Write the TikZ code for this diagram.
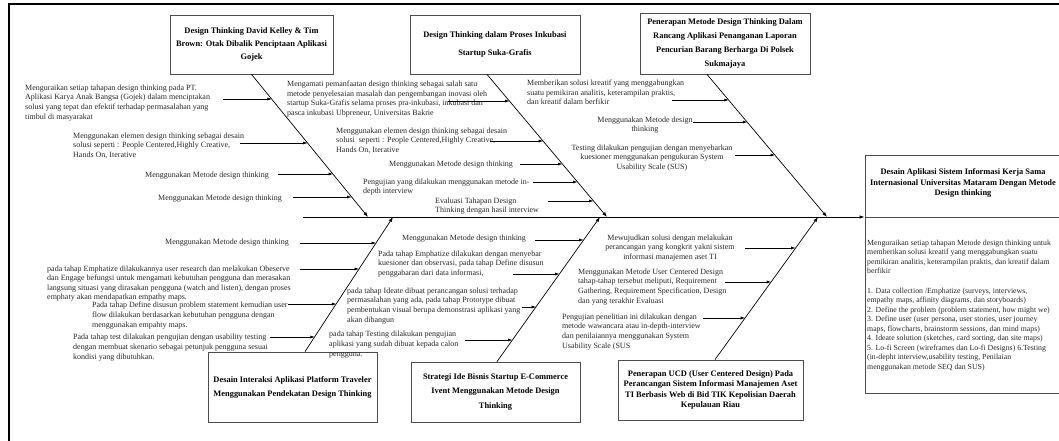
\documentclass[tikz,border=0pt]{standalone}
\usepackage{fontspec}
\setmainfont{Liberation Serif}
\usetikzlibrary{calc}
\usetikzlibrary{arrows.meta}

\newcommand{\panah}[4]{% nama, x ekor, x kepala, y
  \coordinate (#1a) at (#2,#4);
  \coordinate (#1b) at (#3,#4);
  \draw[lengan] (#1a) -- (#1b);
}

\begin{document}
\begin{tikzpicture}[x=1pt,y=-1pt,
  judul/.style={draw=black!70, line width=0.8pt, align=center, inner sep=0pt},
  catatan/.style={align=left, inner sep=0pt, anchor=north west, text=black!85, font=\fontsize{8}{9.7}\selectfont},
  tengah/.style={catatan, align=center, anchor=north},
  tulang/.style={line width=0.7pt, -{Latex[length=5pt,width=3.5pt]}},
  lengan/.style={line width=0.6pt, -{Latex[length=4.5pt,width=3pt]}}]
\useasboundingbox (0,0) rectangle (1059,441);
\draw[line width=2pt] (8.5,441) -- (8.5,4) -- (1059,4);

% kotak atas
\node[judul, minimum width=163pt, minimum height=59pt, font=\bfseries\fontsize{8.4}{13}\selectfont] (t1) at (251.5,44.5)
  {Design Thinking David Kelley \& Tim\\Brown: Otak Dibalik Penciptaan Aplikasi\\Gojek};
\node[judul, minimum width=170pt, minimum height=59pt, font=\bfseries\fontsize{8.4}{18}\selectfont] (t2) at (495,44.5)
  {Design Thinking dalam Proses Inkubasi\\Startup Suka-Grafis};
\node[judul, minimum width=170pt, minimum height=61pt, font=\bfseries\fontsize{8.4}{14}\selectfont] (t3) at (725,43.5)
  {Penerapan Metode Design Thinking Dalam\\Rancang Aplikasi Penanganan Laporan\\Pencurian Barang Berharga Di Polsek\\Sukmajaya};

% kotak bawah
\node[judul, minimum width=169pt, minimum height=70pt, font=\bfseries\fontsize{8.4}{14}\selectfont] (b1) at (292.5,387)
  {Desain Interaksi Aplikasi Platform Traveler\\Menggunakan Pendekatan Design Thinking};
\node[judul, minimum width=169pt, minimum height=60pt, font=\bfseries\fontsize{8.4}{14.5}\selectfont] (b2) at (495.5,392)
  {Strategi Ide Bisnis Startup E-Commerce\\Ivent Menggunakan Metode Design\\Thinking};
\node[judul, minimum width=185pt, minimum height=60pt, font=\bfseries\fontsize{8.4}{10.3}\selectfont] (b3) at (710.5,390)
  {Penerapan UCD (User Centered Design) Pada\\Perancangan Sistem Informasi Manajemen Aset\\TI Berbasis Web di Bid TIK Kepolisian Daerah\\Kepulauan Riau};

% kotak hasil
\node[judul, minimum width=196pt, minimum height=238pt] (hasil) at (963,274) {};
\node[tengah, font=\bfseries\fontsize{8.4}{10.5}\selectfont, text=black] (hjudul) at (963,168.5)
  {Desain Aplikasi Sistem Informasi Kerja Sama\\Internasional Universitas Mataram Dengan Metode\\Design thinking};
\node[catatan, font=\fontsize{7.8}{9.5}\selectfont] (hisi) at (867,239.5)
  {Menguraikan setiap tahapan Metode design thinking untuk\\memberikan solusi kreatif yang menggabungkan suatu\\pemikiran analitis, keterampilan praktis, dan kreatif dalam\\berfikir\\[10pt]
   1. Data collection /Emphatize (surveys, interviews,\\empathy maps, affinity diagrams, dan storyboards)\\2. Define the problem (problem statement, how might we)\\3. Define user (user persona, user stories, user journey\\maps, flowcharts, brainstorm sessions, dan mind maps)\\4. Ideate solution (sketches, card sorting, dan site maps)\\5. Lo-fi Screen (wireframes dan Lo-fi Designs) 6.Testing\\(in-depht interview,usability testing, Penilaian\\menggunakan metode SEQ dan SUS)};

% tulang utama
\coordinate (ekor) at (303,217);
\draw[line width=0.8pt, -{Latex[length=5pt,width=3.5pt]}] (ekor) -- (ekor -| hasil.west);
\draw[line width=0.8pt, draw=black!70] (ekor -| hasil.west) -- (ekor -| hasil.east);

\coordinate (s1) at (368,217);
\coordinate (s2) at (607,217);
\coordinate (s3) at (827,217);
\coordinate (s4) at (393,217);
\coordinate (s5) at (600,217);
\coordinate (s6) at (818,217);
\draw[tulang] (t1.south) -- (s1);
\draw[tulang] ($(t2.south)+(-8,0)$) -- (s2);
\draw[tulang] ($(t3.south)+(-18,0)$) -- (s3);
\draw[tulang] ($(b1.north)+(12.5,0)$) -- (s4);
\draw[tulang] ($(b2.north)+(1.5,0)$) -- (s5);
\draw[tulang] ($(b3.north)+(4.5,0)$) -- (s6);

% catatan tulang 1
\node[catatan] (n11) at (25,84.5) {Menguraikan setiap tahapan design thinking pada PT.\\Aplikasi Karya Anak Bangsa (Gojek) dalam menciptakan\\solusi yang tepat dan efektif terhadap permasalahan yang\\timbul di masyarakat};
\node[catatan] (n12) at (73,132.5) {Menggunakan elemen design thinking sebagai desain\\solusi seperti : People Centered,Highly Creative,\\Hands On, Iterative};
\node[catatan] (n13) at (145,171.5) {Menggunakan Metode design thinking};
\node[catatan] (n14) at (158,194.5) {Menggunakan Metode design thinking};
\panah{p11}{223}{271.9}{99}
\panah{p12}{240}{307.7}{143}
\panah{p13}{278}{333}{174}
\panah{p14}{293}{351.7}{197}

% catatan tulang 2
\node[catatan] (n21) at (287,80.5) {Mengamati pemanfaatan design thinking sebagai salah satu\\metode penyelesaian masalah dan pengembangan inovasi oleh\\startup Suka-Grafis selama proses pra-inkubasi, inkubasi dan\\pasca inkubasi Ubpreneur, Universitas Bakrie};
\node[catatan] (n22) at (336,127.5) {Menggunakan elemen design thinking sebagai desain\\solusi \ seperti : People Centered,Highly Creative,\\Hands On, Iterative};
\node[catatan] (n23) at (389,160.5) {Menggunakan Metode design thinking};
\node[catatan] (n24) at (363,178.5) {Pengujian yang dilakukan menggunakan metode in-\\depth interview};
\node[catatan] (n25) at (435,197.5) {Evaluasi Tahapan Design\\Thinking dengan hasil interview};
\panah{p21}{448}{509.7}{101}
\panah{p22}{490}{543.2}{141}
\panah{p23}{520}{562.5}{164}
\panah{p24}{533}{577.6}{182}
\panah{p25}{548}{593.6}{201}

% catatan tulang 3
\node[catatan] (n31) at (527,79.5) {Memberikan solusi kreatif yang menggabungkan\\suatu pemikiran analitis, keterampilan praktis,\\dan kreatif dalam berfikir};
\node[tengah] (n32) at (645,116.5) {Menggunakan Metode design\\thinking};
\node[tengah] (n33) at (652,144.5) {Testing dilakukan pengujian dengan menyebarkan\\kuesioner menggunakan pengukuran System\\Usability Scale (SUS)};
\panah{p31}{672}{728.8}{100}
\panah{p32}{693}{747.3}{122}
\panah{p33}{735}{775}{155}

% catatan tulang 4
\node[catatan] (m11) at (165,238.5) {Menggunakan Metode design thinking};
\node[catatan, font=\fontsize{8}{9.2}\selectfont] (m12) at (47,266) {pada tahap Emphatize dilakukannya user research dan melakukan Obeserve\\dan Engage befungsi untuk mengamati kebutuhan pengguna dan merasakan\\langsung situasi yang dirasakan pengguna (watch and listen), dengan proses\\emphaty akan mendapatkan empathy maps.};
\node[catatan] (m13) at (92,302) {Pada tahap Define disusun problem statement kemudian user\\flow dilakukan berdasarkan kebutuhan pengguna dengan\\menggunakan empahty maps.};
\node[catatan] (m14) at (73,334) {Pada tahap test dilakukan pengujian dengan usability testing\\dengan membuat skenario sebagai petunjuk pengguna sesuai\\kondisi yang dibutuhkan.};
\panah{q11}{300}{376.1}{243}
\panah{q12}{300}{359.1}{269}
\panah{q13}{288}{336.3}{304}
\panah{q14}{270}{314.8}{337}

% catatan tulang 5
\node[catatan] (m21) at (402,234.5) {Menggunakan Metode design thinking};
\node[catatan] (m22) at (378,250.5) {Pada tahap Emphatize dilakukan dengan menyebar\\kuesioner dan observasi, pada tahap Define disusun\\penggabaran dari data informasi,};
\node[catatan] (m23) at (347,287.5) {pada tahap Ideate dibuat perancangan solusi terhadap\\permasalahan yang ada, pada tahap Prototype dibuat\\pembentukan visual berupa demonstrasi aplikasi yang\\akan dibangun};
\node[catatan] (m24) at (329,331) {pada tahap Testing dilakukan pengujian\\aplikasi yang sudah dibuat kepada calon\\pengguna.};
\panah{q21}{535}{583.7}{240}
\panah{q22}{513}{559.5}{274}
\panah{q23}{522}{536.1}{307}
\panah{q24}{465}{512.6}{340}

% catatan tulang 6
\node[tengah] (m31) at (670,234.5) {Mewujudkan solusi dengan melakukan\\perancangan yang kongkrit yakni sistem\\informasi manajemen aset TI};
\node[catatan] (m32) at (578,268.5) {Menggunakan Metode User Centered Design\\tahap-tahap tersebut meliputi, Requirement\\Gathering, Requirement Specification, Design\\dan yang terakhir Evaluasi};
\node[catatan] (m33) at (562,313.5) {Pengujian penelitian ini dilakukan dengan\\metode wawancara atau in-depth-interview\\dan penilaiannya menggunakan System\\Usability Scale (SUS};
\panah{q31}{745}{795.7}{248}
\panah{q32}{725}{771.2}{282}
\panah{q33}{703}{745.2}{318}
\end{tikzpicture}
\end{document}
